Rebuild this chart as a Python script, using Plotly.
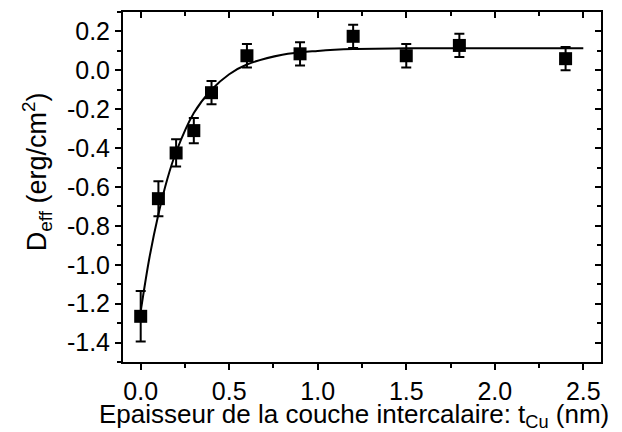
import plotly.graph_objects as go

# measured points (tCu in nm, Deff in erg/cm2)
t_cu = [0.0, 0.1, 0.2, 0.3, 0.4, 0.6, 0.9, 1.2, 1.5, 1.8, 2.4]
d_eff = [-1.265, -0.66, -0.425, -0.31, -0.115, 0.075, 0.085, 0.175, 0.075, 0.128, 0.06]
d_err = [0.13, 0.09, 0.07, 0.065, 0.06, 0.06, 0.06, 0.06, 0.06, 0.06, 0.06]

# fitted curve
fit_x = [0.0, 0.05, 0.1, 0.15, 0.2, 0.3, 0.4, 0.5, 0.6, 0.8, 1.0, 1.2, 1.5, 2.0, 2.5]
fit_y = [-1.24, -0.96, -0.74, -0.56, -0.42, -0.22, -0.10, -0.02, 0.03, 0.08, 0.10,
         0.11, 0.113, 0.113, 0.113]

# tick labels (hyphen minus, like the original)
x_ticks = [0.0, 0.5, 1.0, 1.5, 2.0, 2.5]
x_labels = ["0.0", "0.5", "1.0", "1.5", "2.0", "2.5"]
y_ticks = [0.2, 0.0, -0.2, -0.4, -0.6, -0.8, -1.0, -1.2, -1.4]
y_labels = ["0.2", "0.0", "-0.2", "-0.4", "-0.6", "-0.8", "-1.0", "-1.2", "-1.4"]

x_title = "Epaisseur de la couche intercalaire: t<sub>Cu</sub> (nm)"
y_title = "D<sub>eff</sub> (erg/cm<sup>2</sup>)"

x_range = [-0.1, 2.6]
y_range = [-1.5, 0.3]

font = "Liberation Sans, Arial, sans-serif"

fig = go.Figure()

fig.add_trace(go.Scatter(
    x=fit_x, y=fit_y, mode="lines", line=dict(color="black", width=2, shape="spline"),
    showlegend=False, hoverinfo="skip",
))

fig.add_trace(go.Scatter(
    x=t_cu, y=d_eff, mode="markers",
    marker=dict(symbol="square", size=13, color="black"),
    error_y=dict(type="data", array=d_err, color="black", thickness=2, width=5),
    showlegend=False,
))

# dummy trace so the mirrored (inside-tick) axes get drawn
fig.add_trace(go.Scatter(x=[None], y=[None], xaxis="x2", yaxis="y2",
                         showlegend=False, hoverinfo="skip"))

axis_common = dict(
    showgrid=False, zeroline=False, showline=True, linecolor="black", linewidth=2,
    tickcolor="black", tickwidth=1.5, ticklen=6, automargin=False,
    tickfont=dict(family=font, size=25, color="black"),
)
mirror_common = dict(
    showticklabels=False, showgrid=False, zeroline=False, showline=True,
    linecolor="black", linewidth=2, tickcolor="black", tickwidth=1.5, ticklen=6,
    ticks="inside", automargin=False,
)

fig.update_layout(
    width=622, height=432,
    margin=dict(l=115, r=29, t=4, b=78),
    paper_bgcolor="white", plot_bgcolor="white",
    font=dict(family=font, color="black"),
    xaxis=dict(
        range=x_range, tickvals=x_ticks, ticktext=x_labels, ticks="outside",
        minor=dict(dtick=0.25, tick0=0, ticks="outside", ticklen=4, tickcolor="black", tickwidth=1.5),
        **axis_common,
    ),
    yaxis=dict(
        range=y_range, tickvals=y_ticks, ticktext=y_labels, ticks="outside",
        minor=dict(dtick=0.1, tick0=0, ticks="outside", ticklen=4, tickcolor="black", tickwidth=1.5),
        **axis_common,
    ),
    xaxis2=dict(
        overlaying="x", side="top", range=x_range, tickvals=x_ticks,
        minor=dict(dtick=0.25, tick0=0, ticks="inside", ticklen=4, tickcolor="black", tickwidth=1.5),
        **mirror_common,
    ),
    yaxis2=dict(
        overlaying="y", side="right", range=y_range, tickvals=y_ticks,
        minor=dict(dtick=0.1, tick0=0, ticks="inside", ticklen=4, tickcolor="black", tickwidth=1.5),
        **mirror_common,
    ),
    annotations=[
        dict(text=x_title, xref="paper", yref="paper", x=0.483, y=-0.152,
             xanchor="center", yanchor="middle", showarrow=False,
             font=dict(family=font, size=26, color="black")),
        dict(text=y_title, xref="paper", yref="paper", x=-0.18, y=0.545,
             xanchor="center", yanchor="middle", showarrow=False, textangle=-90,
             font=dict(family=font, size=27, color="black")),
    ],
)

fig.write_html("out.html")
